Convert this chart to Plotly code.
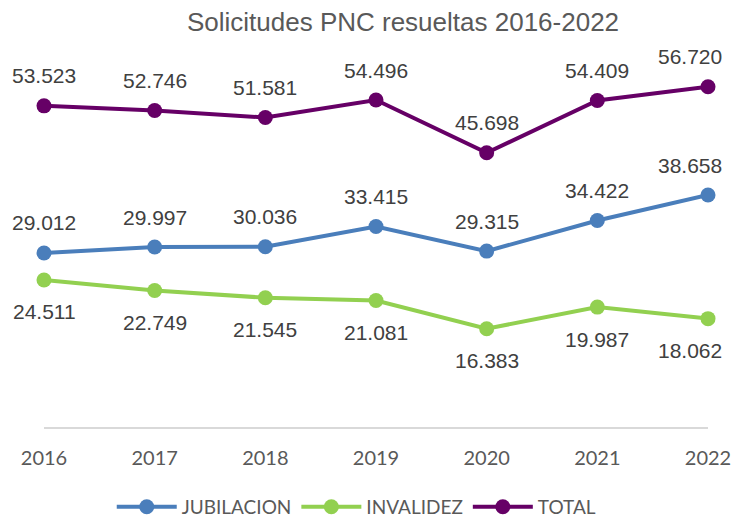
import plotly.graph_objects as go

years = ["2016", "2017", "2018", "2019", "2020", "2021", "2022"]
jubilacion = [29.012, 29.997, 30.036, 33.415, 29.315, 34.422, 38.658]
invalidez = [24.511, 22.749, 21.545, 21.081, 16.383, 19.987, 18.062]
total = [53.523, 52.746, 51.581, 54.496, 45.698, 54.409, 56.720]

series = [
    ("JUBILACION", jubilacion, "#4A7EBB", 30),
    ("INVALIDEZ", invalidez, "#92D050", -32),
    ("TOTAL", total, "#660066", 30),
]

def fmt(v):
    return f"{v:.3f}"

W, H = 732, 512  # page body has an 8px margin inside the 740x520 window

fig = go.Figure()
annotations = []
for name, vals, color, shift in series:
    fig.add_trace(go.Scatter(
        x=years, y=vals, name=name, mode="lines+markers",
        line=dict(color=color, width=4),
        marker=dict(color=color, size=15),
        cliponaxis=False,
    ))
    for i, v in enumerate(vals):
        annotations.append(dict(
            x=i, y=v, xref="x", yref="y", text=fmt(v), showarrow=False,
            yshift=shift, xshift=(-18 if i == len(vals) - 1 else 0),
            font=dict(family="Liberation Sans, Arial", size=21, color="#404040"),
        ))

fig.update_layout(
    width=W, height=H,
    margin=dict(l=36, r=32, t=59, b=93, autoexpand=False),
    paper_bgcolor="white", plot_bgcolor="white",
    title=dict(text="Solicitudes PNC resueltas 2016-2022", x=395 / W, xanchor="center",
               xref="container", y=1 - 14 / H, yref="container", yanchor="middle",
               font=dict(family="Liberation Sans, Arial", size=26, color="#595959")),
    annotations=annotations,
    xaxis=dict(type="category", range=[0, 6], showgrid=False, zeroline=False,
               showline=True, linecolor="#D9D9D9", linewidth=1.5,
               ticks="", ticklabelstandoff=12,
               tickfont=dict(family="Lato, Open Sans", size=20, color="#595959")),
    yaxis=dict(range=[0, 60], visible=False),
    legend=dict(orientation="h", x=0.471, xanchor="center", y=-0.222, yanchor="middle",
                font=dict(family="Lato, Open Sans", size=19, color="#595959"),
                itemwidth=60),
    showlegend=True,
)

fig.write_html("out.html")
